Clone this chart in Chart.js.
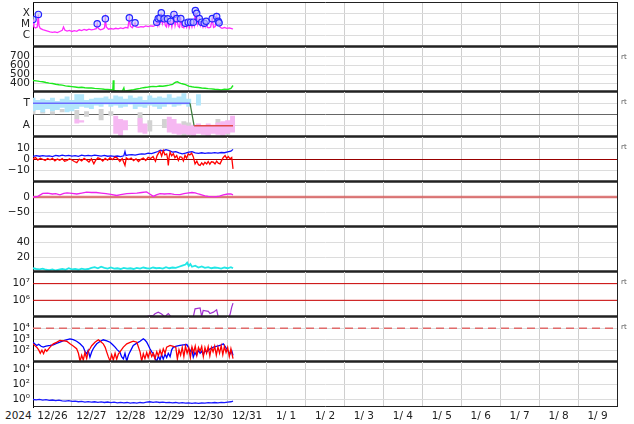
<!DOCTYPE html>
<html>
<head>
<meta charset="utf-8">
<script src="https://cdn.jsdelivr.net/npm/chart.js@4.4.1/dist/chart.umd.min.js"></script>
<style>
  body { margin: 0; background: #fff; }
  #wrap { position: relative; width: 634px; height: 424px; overflow: hidden; font-family: "DejaVu Sans", sans-serif; }
  #wrap canvas { position: absolute; left: 0; }
  .rt { position: absolute; left: 621px; font-size: 7px; line-height: 8px; color: #555; }
  #year { position: absolute; left: 5px; top: 409px; font-size: 10.5px; color: #222; }
</style>
</head>
<body>
<div id="wrap"><div id="year">2024</div></div>
<script>
// hours since 12/26 00:00 for every series
const dayLabels = ['12/26', '12/27', '12/28', '12/29', '12/30', '12/31', '1/ 1', '1/ 2', '1/ 3', '1/ 4', '1/ 5', '1/ 6', '1/ 7', '1/ 8', '1/ 9'];
const spanHours = [0, 360];

// panel 1 : x-ray flux and flare peaks
const xrayTicks = [1e-6, 1e-5, 1e-4];
const xrayTickLabels = ['C', 'M', 'X'];
const xraySeries = [[0,2.8e-5],[0.6,6e-6],[1.5,5e-6],[2.6,6e-6],[3.3,7.8e-5],[3.7,8e-6],[4.5,4.5e-6],[6,3.5e-6],[7.5,3e-6],[9,2.6e-6],[10.5,2.2e-6],[12,2.0e-6],[13.5,2.2e-6],[15,1.9e-6],[16.5,2.4e-6],[18,3e-6],[18.8,6e-6],[19.6,3.2e-6],[21,2.6e-6],[22.5,3e-6],[24,2.4e-6],[25.5,2.8e-6],[27,2.5e-6],[28.5,3.4e-6],[30,2.9e-6],[31.5,3.6e-6],[33,3.1e-6],[34.5,3.8e-6],[36,3.3e-6],[37.5,3.6e-6],[39,4.2e-6],[39.6,1.15e-5],[40.2,4.5e-6],[41.5,3.4e-6],[43,3.9e-6],[44.1,5e-6],[44.6,3.2e-5],[45.2,6e-6],[46.5,3.8e-6],[48,4.4e-6],[49.5,3.9e-6],[51,4.6e-6],[52.5,4.1e-6],[54,5e-6],[55.5,4.4e-6],[57,5.5e-6],[58.5,5e-6],[59.4,3.9e-5],[60,7e-6],[61.2,5.2e-6],[62.9,1.4e-5],[63.6,6e-6],[65,5.5e-6],[66.5,6.5e-6],[68,6e-6],[69.5,7.5e-6],[71,6.5e-6],[72.5,7.5e-6],[74,7e-6],[75.2,8e-6],[76.3,1.6e-5],[76.8,9e-6],[77.2,3.3e-5],[77.7,1.1e-5],[78.3,4e-5],[78.7,1.4e-5],[79.1,1.1e-4],[79.8,1.2e-5],[80.8,3.2e-5],[81.6,8e-6],[82.3,6e-6],[83,3.2e-5],[83.7,7e-6],[84.9,1.95e-5],[85.6,6e-6],[86.9,7.8e-5],[87.6,8e-6],[88.6,3.3e-5],[89.5,7e-6],[90.3,5.5e-6],[91.1,3.3e-5],[91.9,6e-6],[93,5e-6],[93.9,1.3e-5],[94.7,5.5e-6],[95.7,1.6e-5],[96.4,5.5e-6],[97.2,1.6e-5],[98,6e-6],[98.8,1.6e-5],[99.4,8e-6],[100.1,1.7e-4],[100.5,3e-5],[100.9,1e-4],[101.6,1.1e-5],[102.5,3.3e-5],[103.2,8e-6],[104,1.6e-5],[104.8,6e-6],[105.6,1.3e-5],[106.1,7e-6],[106.7,1.95e-5],[107.5,5.5e-6],[108.5,5e-6],[109.5,6e-6],[110.5,3.3e-5],[111.3,5.5e-6],[112.3,6.5e-6],[113.2,5.1e-5],[113.7,1.3e-5],[114.2,1.9e-5],[114.7,1.4e-5],[115.4,5.5e-6],[116.5,4.6e-6],[118,5.4e-6],[119.5,4.5e-6],[121,5e-6],[122.5,4.2e-6],[123.3,4e-6]];
const flarePeaks = [[0,2.8e-5],[3.3,7.8e-5],[39.6,1.15e-5],[44.6,3.2e-5],[59.4,3.9e-5],[62.9,1.4e-5],[76.3,1.6e-5],[77.2,3.3e-5],[78.3,4e-5],[79.1,1.1e-4],[80.8,3.2e-5],[83,3.2e-5],[84.9,1.95e-5],[86.9,7.8e-5],[88.6,3.3e-5],[91.1,3.3e-5],[93.9,1.3e-5],[95.7,1.6e-5],[97.2,1.6e-5],[98.8,1.6e-5],[100.1,1.7e-4],[100.9,1e-4],[102.5,3.3e-5],[104,1.6e-5],[105.6,1.3e-5],[106.7,1.95e-5],[110.5,3.3e-5],[113.2,5.1e-5],[114.2,1.9e-5],[114.7,1.4e-5]];

// panel 2 : solar wind speed
const speedTicks = [400, 500, 600, 700];
const speedSeries = [[0,428],[2,424],[4,418],[6,414],[8,405],[10,398],[12,394],[14,386],[16,380],[18,376],[20,368],[22,364],[24,360],[26,356],[28,350],[30,352],[32,347],[34,344],[36,345],[38,340],[40,338],[42,335],[44,331],[46,328],[48,325],[49.2,322],[49.5,430],[49.9,318],[51,314],[53,311],[55,309],[56,346],[56.4,309],[58,314],[60,320],[62,326],[64,333],[66,340],[68,348],[70,352],[72,358],[74,362],[76,360],[78,366],[80,364],[82,370],[84,376],[86,384],[87,398],[88,410],[89,414],[90,404],[91,396],[92,392],[94,382],[96,366],[98,358],[100,352],[102,350],[104,345],[106,342],[108,338],[110,335],[112,330],[114,327],[116,324],[118,330],[120,328],[122,340],[123.3,372]];

// panel 3 : sector (T / A), streaks given as [hour, low, high]
const sectorTicks = [1, 2, 3];
const sectorTickLabels = ['A', '', 'T'];
const sectorLine = [[0,3],[96.8,3],[99.3,1],[123.3,1]];
const towardBands = [[0,2.3,3.5],[3,2.4,3.3],[6,2.2,3.4],[9,2.5,3.3],[12,2.3,3.5],[15,2.4,3.2],[18,2.6,3.4],[21,2.2,3.6],[24,2.3,3.3],[27,2.5,3.8],[30,2.7,3.8],[33,2.6,3.3],[36,2.5,3.4],[39,2.8,3.5],[42,2.7,3.5],[45,2.9,3.6],[48,2.7,3.4],[51,2.8,3.7],[54,2.6,3.6],[57,2.7,3.4],[60,2.9,3.7],[63,2.5,3.5],[66,2.7,3.6],[69,2.6,3.3],[72,2.8,3.7],[75,2.7,3.5],[78,2.5,3.6],[81,2.7,3.5],[84,2.9,3.8],[87,2.7,3.5],[90,2.8,3.6],[93,2.9,3.9],[96,2.7,3.4],[102,2.8,3.8]];
const awayBands = [[27,1.2,1.6],[30,1.3,1.5],[51,0.3,1.9],[54,0.1,1.6],[57,0.6,1.5],[66,0.4,1.7],[69,0.3,1.2],[84,0.4,1.8],[87,0.3,1.6],[90,0.2,1.2],[93,0.3,1.1],[96,0.2,1.0],[99,0.1,1.1],[102,0.3,1.2],[105,0.2,1.0],[108,0.1,1.2],[111,0.3,1.1],[114,0.2,1.3],[117,0.1,1.4],[120,0.3,1.5],[123,0.4,1.9]];
const mixedBands = [[0,2.0,2.4],[6,2.1,2.3],[12,2.0,2.3],[18,2.2,2.5],[27,1.6,2.4],[33,1.8,2.3],[42,1.5,2.5],[48,1.9,2.3],[66,1.0,2.2],[72,0.5,1.5],[81,0.8,1.6],[93,0.1,1.4],[96,0.2,1.3],[108,0.1,0.5],[114,1.1,1.6],[120,0.2,0.6]];

// panel 4 : Bt and Bz
const fieldTicks = [-10, 0, 10];
const fieldTickLabels = ['\u221210', '0', '10'];
const btSeries = [[0,2.7],[2,3.4],[4,2.9],[6,3.5],[8,3.0],[10,3.2],[12,2.6],[14,3.6],[16,3.1],[18,3.8],[20,3.3],[22,3.6],[24,3.0],[26,3.4],[28,2.8],[30,3.9],[32,3.3],[34,3.6],[36,3.2],[38,3.8],[40,3.4],[42,3.0],[44,3.6],[46,2.9],[48,3.3],[50,2.7],[52,3.1],[54,2.6],[56,3.3],[56.7,7.0],[57.3,3.6],[59,4.1],[61,4.4],[63,3.9],[65,4.6],[67,5.0],[69,4.8],[71,5.6],[73,5.3],[75,6.2],[77,7.1],[78.5,8.2],[80,7.6],[82,8.8],[84,7.9],[86,6.5],[88,6.9],[90,5.8],[92,5.0],[94,5.6],[96,6.6],[98,6.9],[100,5.8],[102,5.5],[104,6.0],[106,5.4],[108,5.9],[110,5.7],[112,6.1],[114,5.6],[116,6.2],[118,6.0],[120,6.7],[122,7.4],[123.3,9.0]];
const bzSeries = [[0,0.6],[1.5,1.8],[3,-0.5],[4.5,1.2],[6,0.2],[7.5,-0.8],[9,0.9],[10.5,-0.3],[12,1.1],[13.5,-1.2],[15,0.4],[16.5,-0.6],[18,0.8],[19.5,-1.5],[21,-0.9],[22.5,0.7],[24,-0.4],[25.5,-1.8],[27,-2.8],[28.5,0.3],[30,-1.2],[31.5,1.0],[33,-0.5],[34.5,-2.2],[36,0.6],[37.5,-3.8],[38.5,-1.0],[40,1.5],[41.5,0.6],[43,-1.4],[44.5,1.0],[46,-0.6],[47.5,1.6],[49,-0.2],[50.5,2.1],[52,1.2],[53.5,-1.8],[55,0.8],[56.7,-5.3],[57.5,1.4],[59,0.0],[60.5,1.2],[62,-1.0],[63.5,0.6],[65,-1.8],[66.5,0.3],[68,1.4],[69.5,-0.8],[71,1.9],[72.5,0.9],[74,2.6],[75.5,-1.5],[76.5,3.5],[77.5,5.8],[78.3,7.4],[79.3,3.0],[80.3,8.0],[81.3,4.2],[82.4,5.0],[83,0.5],[83.4,-5.3],[83.9,2.0],[84.5,6.5],[85.5,3.3],[86.5,5.2],[87.5,1.6],[88.6,3.5],[89.6,-0.8],[90.6,2.5],[91.7,2.0],[92.7,-1.2],[93.7,3.6],[94.7,1.2],[95.7,5.0],[96.7,4.0],[97.8,5.6],[98.8,2.5],[99.9,-3.9],[101,-1.5],[102,-4.6],[103,-5.3],[104,-3.0],[105,-4.8],[106,-2.4],[107.1,-3.9],[108,-1.8],[109,-4.2],[110,-2.0],[111.2,-2.4],[112.2,-4.0],[113.2,-1.5],[114.2,-3.2],[115.3,-3.9],[116.3,-0.8],[117.3,1.8],[118.4,3.5],[119.4,1.0],[120.4,2.6],[121.5,0.6],[122.5,1.8],[123.3,-8.3]];

// panel 5 : magenta index with zero reference
const indexTicks = [-50, 0];
const indexTickLabels = ['\u221250', '0'];
const indexSeries = [[0,0],[3,2],[6,12],[9,13],[12,10],[14,11],[16.6,7],[19,12],[21,14],[24,12],[27,10],[30,13],[33,16],[36,15],[39,15],[42,13],[45,11],[48,9],[51.6,5],[54,8],[57.8,11],[61,12],[64,13],[67,15],[70,17],[72,10],[74.2,2],[76,7],[78.3,11],[81,10],[84.5,11],[87,9],[90.6,8],[93,11],[95,13],[98,15],[100,14],[102,10],[104,7],[106,4],[108,2],[110,1],[112,0.5],[115,3],[117.3,7],[120,10],[122,10],[123.3,7]];

// panel 6 : density
const densityTicks = [20, 40];
const densitySeries = [[0,5],[2,4],[4,3.5],[6,4.5],[8,3],[10,2.5],[12,3.5],[14,2],[16,3],[18,4],[20,3],[22,5],[24,3.5],[26,4],[28,3],[30,4.5],[32,3.5],[34,4],[36,5.5],[38,6.5],[40,5],[42,7],[44,5.5],[46,4.5],[48,6],[50,4.5],[52,5],[54,4],[56,5.5],[58,4.5],[60,5],[62,4],[64,5.5],[66,4.5],[68,6],[70,5],[72,4.5],[74,6],[76,5],[78,5.5],[80,4.5],[82,6.5],[84,5],[86,6],[88,5.5],[90,7],[92,8.5],[94,10],[95,12.5],[96,8],[97,10.5],[98,7],[100,8.5],[102,6],[104,7.5],[106,5.5],[108,6.5],[110,5],[112,6],[114,5.5],[116,4.5],[118,6],[120,5],[122,6.5],[123.3,5]];

// panel 7 : electron flux with thresholds
const electronTicks = [1e6, 1e7];
const electronTickLabels = ['10\u2076', '10\u2077'];
const electronLevels = [1e6, 1e7];
const electronSeries = [[66,6e4],[70.1,1.07e5],[72.1,1.2e5],[74.2,1.25e5],[75.2,1.55e5],[77.2,1.95e5],[79.3,1.5e5],[81.4,1.0e5],[82.3,1.3e5],[83.4,1.6e5],[84.5,1.2e5],[85.7,8e4],[90.6,5e4],[98,7e4],[98.8,1.0e5],[99.9,3.1e5],[103,3.5e5],[104,1.05e5],[104.9,2.45e5],[108.1,2.2e5],[109.1,1.6e5],[111.2,1.95e5],[113.2,2.7e5],[114.2,1.0e5],[116.5,6e4],[120.2,7e4],[121.5,1.45e5],[122.5,3.9e5],[123.3,6.8e5]];

// panel 8 : proton flux, two channels
const protonTicks = [1e2, 1e3, 1e4];
const protonTickLabels = ['10\u00b2', '10\u00b3', '10\u2074'];
const protonLevel = [1e4];
const protonBlue = [[0,575],[1,420],[2.3,295],[3.5,380],[5,250],[6.3,210],[8,260],[10.5,295],[12.5,340],[14.5,450],[16.6,575],[18.5,760],[20.5,950],[22.8,1150],[24.8,980],[26.9,700],[29,420],[31,210],[32,90],[33.1,54],[34,110],[35.1,27],[36.2,80],[37.2,160],[38.2,260],[39.3,415],[41,620],[43.3,940],[45.5,760],[47.5,575],[49,360],[50.6,210],[52,120],[53.6,74],[54.6,30],[55.7,19],[56.7,60],[57.8,12],[58.8,40],[59.8,80],[61.8,295],[64,480],[66,700],[68,1150],[69,900],[70.1,575],[71,320],[72.1,150],[73.2,80],[74.2,54],[75.2,20],[76.3,12],[77.3,35],[78.3,15],[79.3,45],[80.3,18],[81.4,50],[82.4,25],[83.4,60],[84.5,30],[85.5,120],[86.5,210],[88.5,260],[90.6,295],[92.7,330],[94.8,355],[95.8,200],[96.8,80],[97.8,150],[98.8,27],[99.8,70],[100.8,40],[102,110],[103,60],[104,90],[105,45],[106,100],[107.1,80],[109,140],[111.2,210],[113,250],[115.3,295],[117.3,415],[118.4,250],[119.4,150],[120.4,90],[121.5,54],[122.5,100],[123.3,38]];
const protonRed = [[0,415],[1,300],[2.3,210],[3.5,120],[4.5,60],[5.5,110],[6.5,55],[7.5,130],[8.5,90],[10.5,210],[12.5,415],[14.5,560],[16.6,810],[19,760],[20.8,700],[22.8,415],[24.8,260],[26.9,150],[28,60],[29,12],[30,40],[31,15],[32,70],[33.1,20],[34,90],[35.1,150],[36.2,280],[38.2,575],[40.3,940],[41.5,700],[43.3,415],[44.5,200],[45.4,80],[46.4,30],[47.5,12],[48.5,45],[49.5,15],[50.6,60],[51.6,18],[52.6,50],[53.6,80],[55.7,210],[57.8,415],[59.9,560],[61.8,700],[64,575],[66,80],[67,12],[68,54],[69,20],[70.1,70],[71,25],[72.1,90],[73.2,30],[74.2,60],[75.2,20],[76.3,80],[77.3,35],[78.3,110],[79.3,40],[80.3,150],[81.4,60],[82.4,210],[84.5,295],[86.5,245],[88,210],[89,19],[90,120],[91,40],[92,200],[93,30],[94,250],[95,60],[96,180],[97,25],[98,220],[99,70],[100,260],[101,40],[102,200],[103,90],[104,240],[105,30],[106,190],[107,60],[108,230],[109,35],[110,200],[111,80],[112,260],[113,40],[114,220],[115,60],[116,280],[117,45],[118,240],[119,70],[120,200],[121,30],[122,150],[123.3,20]];

// panel 9 : low flux channel
const lowTicks = [1, 1e2, 1e4];
const lowTickLabels = ['10\u2070', '10\u00b2', '10\u2074'];
const lowSeries = [[0,1.0],[2,0.9],[4,1.05],[6,0.85],[8,0.95],[10,0.75],[12,0.85],[14,0.7],[16,0.8],[18,0.65],[20,0.6],[22,0.7],[24,0.55],[26,0.6],[28,0.5],[30,0.55],[32,0.45],[34,0.52],[36,0.45],[38,0.5],[40,0.42],[42,0.48],[44,0.4],[46,0.46],[48,0.38],[50,0.44],[52,0.36],[54,0.42],[56,0.35],[58,0.4],[60,0.33],[62,0.38],[64,0.32],[66,0.4],[68,0.36],[70,0.45],[72,0.5],[74,0.42],[76,0.48],[78,0.4],[80,0.45],[82,0.38],[84,0.42],[86,0.35],[88,0.4],[90,0.33],[92,0.38],[94,0.32],[96,0.36],[98,0.3],[100,0.35],[102,0.3],[104,0.34],[106,0.32],[108,0.38],[110,0.35],[112,0.4],[114,0.36],[116,0.42],[118,0.38],[120,0.45],[122,0.5],[123.3,0.6]];

const PANEL_H = 45, PANEL_TOP = 2, PAD = 8, AXIS_H = 20;
const FONT = { family: 'DejaVu Sans', size: 10.5 };
const GRID_H = '#dcdcdc', GRID_V = '#cfcfcf';
const wrap = document.getElementById('wrap');

const pts = arr => arr.map(([x, y]) => ({ x, y }));
// each band becomes a vertical stroke: low point, high point, then a break
const streaks = arr => arr.flatMap(([x, lo, hi]) => [{ x, y: lo }, { x, y: hi }, { x, y: null }]);
const level = v => spanHours.map(x => ({ x, y: v }));

const tickHours = [];
for (let h = 0; h <= 360; h += 12) tickHours.push(h);

// frame around each panel: thin sides, thick bar underneath
const panelFrame = {
    id: 'panelFrame',
    afterDraw(chart, args, opts) {
        const { ctx, chartArea: a } = chart;
        ctx.save();
        ctx.strokeStyle = '#222';
        ctx.lineWidth = 1;
        ctx.beginPath();
        ctx.moveTo(a.right + 0.5, a.top);
        ctx.lineTo(a.right + 0.5, a.bottom);
        ctx.stroke();
        if (opts.top) {
            ctx.beginPath();
            ctx.moveTo(a.left, a.top + 0.5);
            ctx.lineTo(a.right + 1, a.top + 0.5);
            ctx.stroke();
        }
        ctx.lineWidth = opts.bottom;
        ctx.beginPath();
        ctx.moveTo(a.left, a.bottom - 0.5);
        ctx.lineTo(a.right + 1, a.bottom - 0.5);
        ctx.stroke();
        ctx.restore();
    }
};

function line(data, color, width, extra) {
    return Object.assign({ data, borderColor: color, borderWidth: width || 1.2, pointRadius: 0, tension: 0 }, extra);
}
function streak(data, color) {
    return line(streaks(data), color, 4.9, { spanGaps: false, borderCapStyle: 'butt' });
}

function makePanel(index, cfg) {
    const last = index === 8;
    const canvas = document.createElement('canvas');
    canvas.width = 634;
    canvas.height = PAD + PANEL_H + (last ? AXIS_H : PAD);
    canvas.style.top = (PANEL_TOP + index * PANEL_H - PAD) + 'px';
    wrap.appendChild(canvas);

    new Chart(canvas, {
        type: 'line',
        data: { datasets: cfg.datasets },
        options: {
            responsive: false,
            animation: false,
            events: [],
            layout: { padding: { top: PAD, bottom: last ? 0 : PAD, left: 0, right: 17 } },
            plugins: {
                legend: { display: false },
                tooltip: { enabled: false },
                panelFrame: { top: index === 0, bottom: last ? 1 : 2.5 }
            },
            scales: {
                x: {
                    type: 'linear', min: spanHours[0], max: spanHours[1],
                    afterBuildTicks: s => { s.ticks = tickHours.map(v => ({ value: v })); },
                    grid: { color: c => (c.tick && c.tick.value % 24 === 0) ? GRID_V : 'rgba(0,0,0,0)', drawTicks: false },
                    border: { display: false },
                    ticks: {
                        display: last, autoSkip: false, maxRotation: 0, padding: 3, color: '#222', font: FONT,
                        callback: v => v % 24 === 12 ? dayLabels[Math.floor(v / 24)] : ''
                    },
                    afterFit: s => { s.height = last ? AXIS_H : 0; s.paddingLeft = 0; s.paddingRight = 0; }
                },
                y: {
                    type: cfg.log ? 'logarithmic' : 'linear',
                    min: cfg.min, max: cfg.max,
                    afterBuildTicks: s => { s.ticks = cfg.ticks.map(v => ({ value: v })); },
                    ticks: {
                        autoSkip: false, padding: 3, color: '#222', font: FONT,
                        callback: (v, i) => cfg.labels ? cfg.labels[i] : String(v)
                    },
                    grid: { color: cfg.gridColor || GRID_H, drawTicks: false },
                    border: { color: '#000', width: 1 },
                    afterFit: s => { s.width = 33; s.paddingTop = 0; s.paddingBottom = 0; }
                }
            }
        },
        plugins: [panelFrame]
    });
}

makePanel(0, {
    log: true, min: 1e-7, max: 1e-3, ticks: xrayTicks, labels: xrayTickLabels,
    datasets: [
        line(pts(flarePeaks), '#2424ff', 1.2, { showLine: false, pointRadius: 3.2, pointBorderColor: '#2424ff', pointBackgroundColor: 'rgba(190,200,255,0.6)', pointBorderWidth: 1.2 }),
        line(pts(xraySeries), '#ff2bff', 1.3)
    ]
});

makePanel(1, {
    min: 300, max: 800, ticks: speedTicks,
    datasets: [line(pts(speedSeries), '#1ee81e', 1.4)]
});

makePanel(2, {
    min: 0, max: 4, ticks: sectorTicks, labels: sectorTickLabels,
    gridColor: c => c.tick && c.tick.value === 2 ? '#666' : GRID_H,
    datasets: [
        line(pts(sectorLine), '#6a6aff', 1.3, {
            segment: { borderColor: c => ['#6a6aff', '#3f7f3f', '#e04848'][c.p0DataIndex] }
        }),
        streak(towardBands, '#b2e6fb'),
        streak(awayBands, '#f6b8f2'),
        streak(mixedBands, '#d2d2d2')
    ]
});

makePanel(3, {
    min: -20, max: 20, ticks: fieldTicks, labels: fieldTickLabels,
    datasets: [
        line(pts(bzSeries), '#ff0000', 1.3),
        line(pts(btSeries), '#1010ff', 1.3),
        line(level(0), '#990000', 1)
    ]
});

makePanel(4, {
    min: -100, max: 50, ticks: indexTicks, labels: indexTickLabels,
    datasets: [
        line(pts(indexSeries), '#ee22ee', 1.3),
        line(level(0), 'rgba(214,90,90,0.8)', 2.5)
    ]
});

makePanel(5, {
    min: 0, max: 60, ticks: densityTicks,
    datasets: [line(pts(densitySeries), '#22e6e6', 1.8)]
});

makePanel(6, {
    log: true, min: 1e5, max: 5e7, ticks: electronTicks, labels: electronTickLabels,
    datasets: [
        line(pts(electronSeries), '#a030d0', 1.2),
        ...electronLevels.map(v => line(level(v), '#cc0000', 1))
    ]
});

makePanel(7, {
    log: true, min: 1e1, max: 1e5, ticks: protonTicks, labels: protonTickLabels,
    datasets: [
        line(pts(protonRed), '#ff0000', 1.3),
        line(pts(protonBlue), '#0000ff', 1.3),
        ...protonLevel.map(v => line(level(v), '#e06a6a', 1.5, { borderDash: [8, 5] }))
    ]
});

makePanel(8, {
    log: true, min: 1e-1, max: 1e5, ticks: lowTicks, labels: lowTickLabels,
    datasets: [line(pts(lowSeries), '#1a1aff', 1.3)]
});

// small "rt" marks at the right of some panels
[1, 2, 3, 6, 7].forEach(i => {
    const s = document.createElement('div');
    s.className = 'rt';
    s.textContent = 'rt';
    s.style.top = (PANEL_TOP + i * PANEL_H + 6) + 'px';
    wrap.appendChild(s);
});
</script>
</body>
</html>
